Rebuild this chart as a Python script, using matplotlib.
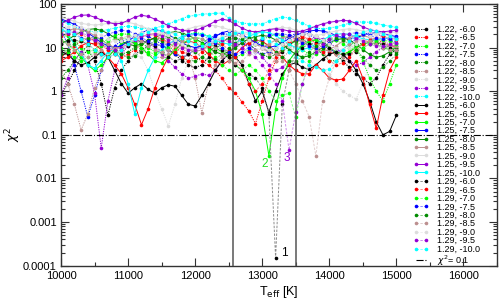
import matplotlib
matplotlib.use('Agg')
import matplotlib.pyplot as plt
from matplotlib.colors import to_rgb
from matplotlib.ticker import FixedLocator, FixedFormatter, LogLocator, NullFormatter, MultipleLocator

plt.rcParams['font.family'] = ['Liberation Sans', 'DejaVu Sans']

# effective temperature grid (K)
temps = [10000, 10100, 10200, 10300, 10400, 10500, 10600, 10700, 10800, 10900,
         11000, 11100, 11200, 11300, 11400, 11500, 11600, 11700, 11800, 11900,
         12000, 12100, 12200, 12300, 12400, 12500, 12600, 12700, 12800, 12900,
         13000, 13100, 13200, 13300, 13400, 13500, 13600, 13700, 13800, 13900,
         14000, 14100, 14200, 14300, 14400, 14500, 14600, 14700, 14800, 14900, 15000]

loggs = ['1.22', '1.25', '1.29']
fehs = ['-6.0', '-6.5', '-7.0', '-7.5', '-8.0', '-8.5', '-9.0', '-9.5', '-10.0']
colors = ['#000000', '#ff0000', '#00ff00', '#0000ff', '#008b00',
          '#bc8f8f', '#dcdcdc', '#9400d3', '#00ffff']

# chi^2 values, one row per metallicity
chi2_g122 = [
    [0.8, 1.5, 3, 6, 9, 5, 1.5, 0.28, 1.2, 3,
     5, 7, 9, 11, 12, 11, 9, 7, 5, 4,
     3.5, 4, 6, 9, 13, 17, 20, 18, 15, 12,
     10, 8, 7, 8, 11, 15, 19, 21, 18, 14,
     10, 7, 5, 3.5, 2.5, 2, 1.5, 2, 4, 7, 9],
    [6, 8, 11, 14, 16, 15, 12, 9, 7, 6,
     7, 9, 12, 15, 17, 16, 13, 10, 8, 7,
     6, 5, 4, 3, 2, 1.2, 0.9, 0.57, 0.35, 0.18,
     0.6, 2, 5, 9, 12, 15, 17, 16, 13, 10,
     8, 7, 7, 8, 10, 12, 14, 15, 13, 11, 10],
    [20, 18, 14, 10, 8, 9, 12, 16, 19, 21,
     20, 17, 13, 10, 8, 8, 10, 13, 17, 20,
     22, 21, 18, 14, 10, 7, 6, 7, 9, 12,
     15, 18, 20, 19, 16, 12, 9, 7, 7, 9,
     12, 15, 17, 15, 10, 5, 2, 1, 0.6, 1.5, 4],
    [25, 12, 4, 1, 0.26, 0.8, 3, 7, 11, 14,
     16, 18, 19, 18, 15, 12, 9, 7, 6, 7,
     9, 12, 16, 19, 21, 20, 17, 13, 10, 8,
     7, 8, 10, 14, 18, 21, 22, 20, 16, 12,
     9, 8, 9, 12, 16, 20, 22, 21, 18, 15, 13],
    [2, 3, 5, 8, 11, 13, 12, 10, 8, 7,
     8, 10, 13, 15, 16, 14, 11, 8, 6, 5,
     5, 6, 8, 11, 14, 16, 17, 15, 12, 9,
     7, 6, 7, 9, 12, 14, 15, 13, 10, 7,
     5, 5, 6, 8, 11, 13, 14, 13, 11, 9, 8],
    [3, 1.5, 0.5, 0.13, 0.3, 1.2, 3, 6, 9, 11,
     12, 11, 9, 7, 6, 6, 7, 9, 10, 7,
     2, 0.32, 1.5, 4, 6, 9, 12, 14, 15, 13,
     10, 7, 5, 6, 8, 11, 14, 16, 15, 12,
     9, 7, 6, 7, 9, 12, 14, 15, 14, 12, 11],
    [35, 30, 22, 15, 10, 7, 6, 7, 9, 8,
     6, 7, 6, 3, 1, 0.4, 0.16, 0.5, 2, 5,
     8, 12, 15, 17, 16, 13, 10, 8, 7, 8,
     10, 13, 15, 14, 11, 8, 6, 5, 4, 3,
     2.5, 1.5, 1, 0.8, 0.66, 1.5, 4, 8, 12, 15, 16],
    [0.8, 2, 5, 8, 4, 0.9, 0.05, 0.6, 3, 7,
     11, 14, 15, 13, 10, 7, 5, 3.5, 2.5, 2,
     2.2, 2.5, 2.3, 3, 5, 8, 11, 13, 12, 9,
     6, 4, 3, 3.5, 5, 8, 12, 15, 17, 16,
     13, 10, 7, 5, 4, 4.5, 6, 8, 10, 11, 11],
    [40, 36, 30, 26, 24, 23, 24, 26, 28, 30,
     31, 30, 28, 27, 28, 31, 35, 40, 46, 52,
     55, 58, 60, 61, 62, 48, 40, 37, 35, 35,
     35, 40, 46, 50, 48, 42, 36, 31, 28, 27,
     28, 30, 33, 36, 38, 39, 38, 36, 33, 31, 29],
]

chi2_g125 = [
    [8, 7, 5, 4, 4.5, 6, 8, 6, 3, 1.5,
     0.9, 1.2, 1.5, 1.1, 0.9, 1.2, 1.4, 1.3, 0.8, 0.5,
     0.46, 0.8, 1.5, 3, 5, 7, 6, 4, 1.5, 0.6,
     1, 0.33, 1, 2.5, 4, 4.5, 3.5, 3.2, 4, 5.5,
     7, 8, 7, 5, 3, 1.5, 0.6, 0.2, 0.1, 0.12, 0.28],
    [5, 6, 8, 11, 13, 12, 9, 6, 4, 2.5,
     1.2, 0.5, 0.17, 0.4, 1.2, 3, 6, 9, 12, 14,
     13, 10, 7, 5, 4, 5, 7, 10, 13, 15,
     14, 11, 8, 6, 4, 3, 2.5, 2.5, 4, 3,
     2, 1.8, 1.9, 3, 5, 2, 0.5, 0.14, 0.8, 3, 6],
    [15, 12, 9, 6, 4, 3, 4, 6, 9, 12,
     14, 13, 10, 7, 5, 4.5, 6, 9, 12, 15,
     17, 16, 13, 10, 8, 6, 4, 3, 2, 1,
     0.3, 0.033, 0.4, 2, 5, 8, 11, 14, 15, 13,
     10, 8, 7, 8, 10, 12, 13, 12, 10, 9, 10],
    [45, 40, 34, 28, 22, 17, 13, 11, 10, 11,
     14, 18, 22, 25, 26, 24, 20, 16, 13, 11,
     10, 11, 14, 18, 22, 24, 23, 20, 16, 13,
     11, 10, 11, 13, 16, 19, 22, 24, 25, 24,
     22, 19, 17, 16, 17, 19, 21, 22, 21, 19, 18],
    [12, 15, 19, 23, 26, 27, 25, 21, 17, 14,
     12, 11, 12, 14, 17, 20, 22, 23, 22, 19,
     16, 13, 10, 8, 7, 8, 10, 13, 16, 18,
     19, 18, 15, 12, 9, 7, 6, 6.5, 8, 10,
     13, 15, 16, 15, 12, 9, 7, 6, 6.5, 8, 10],
    [22, 25, 27, 26, 23, 19, 15, 12, 10, 10,
     12, 15, 18, 20, 21, 20, 17, 14, 11, 9,
     8, 9, 11, 14, 17, 19, 20, 18, 15, 12,
     10, 12, 15, 17, 18, 17, 14, 11, 9, 8,
     9, 11, 14, 17, 19, 19, 17, 14, 12, 11, 11],
    [50, 45, 40, 36, 34, 33, 34, 36, 38, 39,
     38, 35, 31, 27, 24, 22, 21, 22, 24, 27,
     30, 32, 33, 32, 29, 26, 23, 21, 20, 21,
     23, 26, 28, 29, 28, 25, 22, 20, 19, 20,
     22, 24, 26, 27, 26, 24, 22, 21, 21, 22, 23],
    [35, 42, 50, 55, 56, 50, 43, 38, 35, 36,
     42, 50, 55, 52, 45, 38, 32, 28, 25, 24,
     25, 28, 33, 40, 45, 42, 34, 28, 24, 23,
     24, 26, 27, 26, 24, 23, 24, 27, 31, 35,
     38, 40, 42, 41, 36, 30, 26, 24, 23, 24, 25],
    [30, 20, 12, 7, 4, 3.4, 5, 8, 9, 5,
     1.5, 0.3, 1.2, 3, 6, 9, 12, 15, 18, 20,
     21, 20, 18, 15, 13, 12, 13, 15, 18, 21,
     23, 22, 19, 15, 12, 10, 9, 10, 12, 15,
     18, 20, 21, 20, 18, 16, 15, 15, 16, 17, 17],
]

chi2_g129 = [
    [12, 14, 15, 14, 12, 9, 7, 6, 7, 9,
     11, 13, 14, 13, 11, 8, 6, 5, 5.5, 7,
     9, 11, 12, 11, 9, 6, 4, 3, 2.5, 2,
     1.2, 0.3, 0.00015, 0.5, 3, 7, 10, 12, 13, 12,
     10, 8, 7, 7, 8, 10, 12, 13, 12, 10, 9],
    [18, 20, 21, 20, 17, 14, 11, 9, 9, 10,
     12, 15, 18, 20, 19, 16, 12, 8, 6, 5,
     6, 8, 11, 13, 12, 9, 6, 3, 1.5, 1,
     1.5, 3, 6, 10, 14, 17, 18, 16, 12, 8,
     5, 4, 4.5, 6, 9, 12, 15, 17, 18, 17, 15],
    [10, 8, 6, 5, 6, 8, 11, 14, 16, 17,
     16, 13, 10, 8, 7, 8, 10, 13, 15, 16,
     15, 12, 9, 6, 4, 3, 2.5, 3, 4, 3,
     2, 1, 0.6, 0.8, 0.9, 0.25, 1.5, 5, 10, 14,
     16, 15, 12, 10, 9, 10, 12, 14, 15, 14, 12],
    [30, 26, 21, 17, 15, 15, 17, 20, 23, 25,
     24, 21, 17, 14, 12, 11, 12, 14, 17, 19,
     20, 19, 16, 13, 10, 8, 7, 8, 10, 13,
     16, 19, 21, 21, 19, 16, 13, 11, 10, 11,
     13, 16, 19, 21, 22, 21, 19, 17, 16, 16, 17],
    [7, 9, 12, 15, 17, 17, 15, 12, 9, 7,
     6, 6.5, 8, 11, 14, 17, 18, 17, 14, 11,
     8, 6, 5, 5.5, 7, 10, 13, 16, 17, 16,
     13, 10, 8, 6, 5, 5, 6, 8, 11, 14,
     16, 17, 15, 12, 9, 6, 4, 3, 3.5, 5, 7],
    [14, 12, 9, 7, 6, 7, 9, 12, 15, 17,
     18, 17, 14, 11, 9, 8, 9, 11, 14, 16,
     17, 16, 13, 10, 7, 5, 4.5, 5, 7, 9,
     10, 9, 7, 5, 3, 1.5, 0.6, 0.26, 0.033, 0.6,
     2, 5, 9, 12, 14, 15, 14, 12, 10, 9, 9],
    [28, 30, 31, 30, 27, 23, 19, 16, 14, 14,
     16, 19, 22, 24, 24, 22, 19, 15, 12, 10,
     9, 10, 12, 15, 18, 20, 20, 18, 15, 12,
     10, 9, 10, 12, 15, 18, 20, 20, 18, 15,
     12, 10, 9, 10, 12, 15, 18, 20, 20, 18, 16],
    [20, 22, 23, 22, 19, 15, 12, 10, 9, 10,
     12, 15, 18, 20, 20, 18, 15, 12, 10, 9,
     9, 10, 12, 14, 15, 14, 12, 10, 8, 6,
     4, 2.5, 1.5, 0.6, 0.045, 0.33, 1.5, 4, 8, 12,
     16, 19, 21, 20, 17, 14, 12, 11, 11, 12, 13],
    [26, 24, 20, 16, 12, 9, 7, 6, 7, 9,
     12, 16, 20, 23, 25, 25, 23, 20, 17, 14,
     12, 11, 12, 14, 17, 20, 22, 23, 22, 20,
     17, 14, 12, 10, 8, 6, 5, 4, 3.5, 3,
     3.2, 5, 9, 14, 19, 23, 25, 24, 21, 18, 16],
]

grids = [chi2_g122, chi2_g125, chi2_g129]
line_styles = [(0, (1.2, 1.2)), '-', (0, (2.5, 1.5))]
line_light = [0.0, 0.0, 0.55]


def lighten(c, f):
    r, g, b = to_rgb(c)
    return (r + (1 - r) * f, g + (1 - g) * f, b + (1 - b) * f)


fig = plt.figure(figsize=(4.99, 3.02), dpi=100)
ax = fig.add_axes([0.1222, 0.1202, 0.8737, 0.8666])

for logg, rows, ls, light in zip(loggs, grids, line_styles, line_light):
    for feh, vals, col in zip(fehs, rows, colors):
        ax.plot(temps, vals, linestyle=ls, linewidth=0.7, color=lighten(col, light),
                marker='o', markersize=2.6, markerfacecolor=col, markeredgecolor=col,
                markeredgewidth=0, label=logg + ', ' + feh)

ax.axhline(0.1, color='black', linestyle='-.', linewidth=0.8, label='$\\chi^2$= 0.1')
ax.axvline(12570, color='#555555', linewidth=1.1, zorder=5)
ax.axvline(13500, color='#555555', linewidth=1.1, zorder=5)

ax.text(13330, 0.0002, '1', fontsize=8.5, color='black', ha='center', va='center')
ax.text(13030, 0.022, '2', fontsize=8.5, color='#22dd22', ha='center', va='center')
ax.text(13370, 0.03, '3', fontsize=8.5, color='#9400d3', ha='center', va='center')

ax.set_xlim(10000, 16500)
ax.set_yscale('log')
ax.set_ylim(1e-4, 100)
ax.xaxis.set_major_locator(MultipleLocator(1000))
ax.xaxis.set_minor_locator(MultipleLocator(500))
ax.yaxis.set_major_locator(FixedLocator([1e-4, 1e-3, 1e-2, 0.1, 1, 10, 100]))
ax.yaxis.set_major_formatter(FixedFormatter(['0.0001', '0.001', '0.01', '0.1', '1', '10', '100']))
ax.yaxis.set_minor_locator(LogLocator(base=10, subs=range(2, 10)))
ax.yaxis.set_minor_formatter(NullFormatter())
ax.tick_params(which='both', direction='in', top=True, right=True, labelsize=8, width=0.8, color='#333333')
ax.tick_params(which='major', length=5.8)
ax.tick_params(which='minor', length=2.9)
ax.tick_params(axis='x', pad=4)
ax.tick_params(axis='y', pad=3)
for sp in ax.spines.values():
    sp.set_color('#333333')
    sp.set_linewidth(1.0)

ax.set_xlabel('T$_{\\rm eff}$ [K]', fontsize=9, labelpad=2)
ax.set_ylabel('$\\chi^2$', fontsize=9, labelpad=0)

ax.legend(loc='upper left', bbox_to_anchor=(0.828, 0.918), bbox_transform=fig.transFigure,
          frameon=False, prop={'family': ['Liberation Sans Narrow', 'Liberation Sans'], 'size': 6.5},
          labelspacing=-0.06, handlelength=1.75, handletextpad=0.85,
          borderpad=0, borderaxespad=0, numpoints=2)

fig.savefig('out.png', dpi=100)
